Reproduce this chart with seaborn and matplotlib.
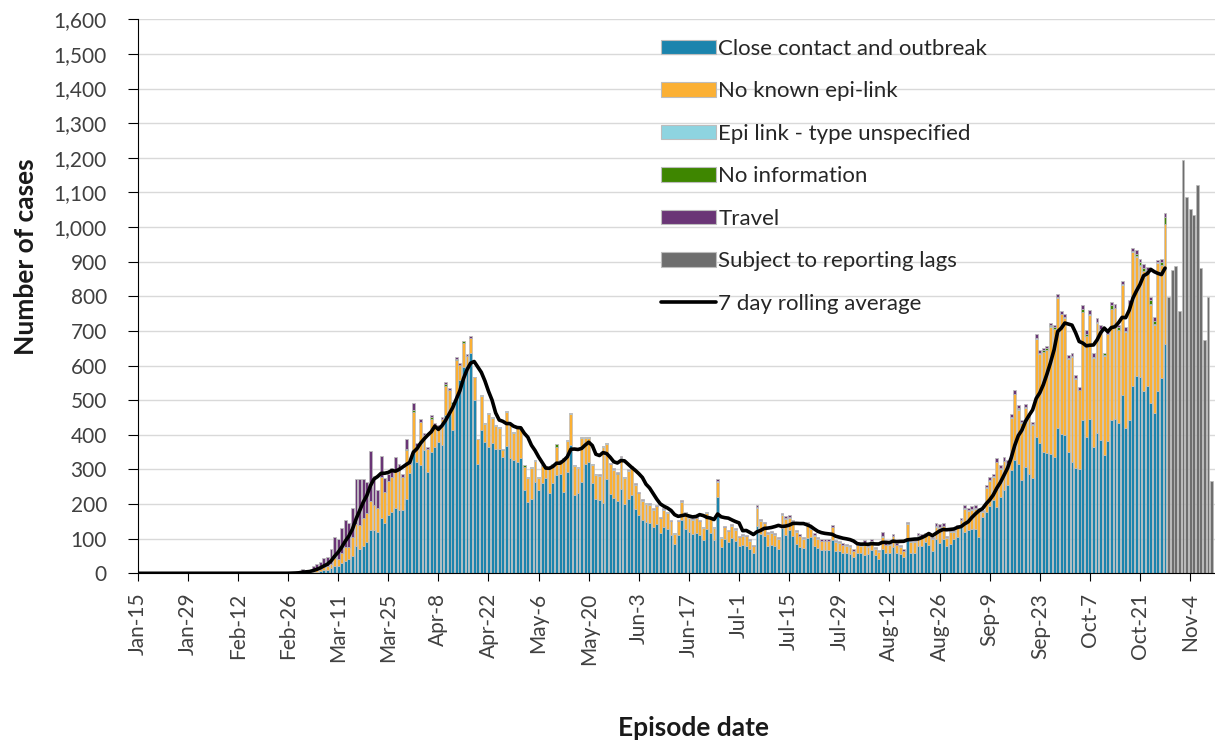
import numpy as np
import pandas as pd
import matplotlib
matplotlib.use("Agg")
import matplotlib.pyplot as plt
from matplotlib.patches import Patch
from matplotlib.lines import Line2D
import seaborn as sns


# ── Data (daily counts) ────────────────────────────────────────
# day 0 = Jan-15; bars start on Feb-26 (day 42), the last 13 days
# (from day 288) are only shown as "subject to reporting lags"
N_DAYS = 301
FIRST_DAY = 42
LAG_DAY = 288

close = [
    0, 0, 1, 1, 2, 1, 2, 4, 5, 7, 9, 10, 14, 20,
    22, 30, 35, 40, 50, 78, 70, 80, 90, 126, 126, 120, 159, 144,
    168, 178, 188, 183, 183, 216, 290, 351, 322, 312, 356, 293, 351, 365,
    380, 370, 457, 466, 413, 514, 558, 596, 587, 635, 500, 317, 413, 380,
    365, 375, 360, 360, 337, 367, 332, 327, 322, 332, 242, 207, 216, 264,
    240, 260, 274, 231, 260, 284, 288, 236, 293, 370, 226, 231, 265, 317,
    322, 262, 216, 212, 202, 271, 230, 218, 209, 243, 201, 216, 225, 187,
    169, 154, 147, 145, 135, 142, 117, 135, 128, 111, 84, 111, 153, 128,
    119, 114, 117, 111, 97, 128, 117, 97, 221, 76, 99, 90, 102, 94,
    78, 81, 80, 71, 59, 137, 113, 107, 80, 82, 78, 71, 130, 112,
    125, 108, 85, 77, 72, 101, 105, 78, 72, 67, 67, 67, 95, 65,
    64, 59, 58, 56, 47, 59, 58, 54, 56, 67, 52, 40, 70, 59,
    60, 77, 59, 56, 47, 103, 60, 60, 80, 80, 91, 82, 65, 98,
    87, 98, 79, 85, 98, 106, 135, 120, 125, 127, 127, 106, 163, 178,
    194, 213, 192, 221, 240, 255, 298, 327, 317, 269, 308, 288, 274, 394,
    377, 351, 348, 344, 337, 421, 402, 400, 350, 320, 303, 300, 444, 395,
    447, 365, 404, 385, 341, 383, 442, 447, 433, 516, 421, 442, 541, 570,
    567, 527, 541, 493, 462, 527, 564, 663,
]
no_epi_link = [
    0, 0, 0, 1, 2, 1, 1, 4, 5, 6, 8, 10, 14, 25,
    20, 30, 40, 35, 55, 63, 70, 80, 85, 83, 70, 70, 120, 90,
    100, 100, 110, 112, 95, 140, 25, 115, 45, 125, 42, 65, 96, 62,
    42, 75, 85, 62, 76, 101, 44, 69, 40, 45, 67, 70, 98, 50,
    94, 74, 65, 60, 18, 99, 98, 79, 100, 88, 65, 69, 89, 60,
    36, 49, 33, 74, 54, 81, 36, 95, 88, 90, 83, 74, 125, 73,
    68, 52, 69, 68, 162, 101, 85, 81, 77, 91, 74, 80, 80, 69,
    62, 56, 53, 53, 49, 51, 42, 49, 46, 39, 29, 39, 54, 46,
    42, 41, 42, 39, 34, 46, 42, 34, 43, 26, 34, 31, 36, 32,
    26, 28, 27, 23, 19, 53, 39, 37, 34, 35, 33, 29, 38, 46,
    36, 40, 34, 30, 28, 42, 24, 31, 28, 25, 25, 25, 38, 25,
    24, 22, 21, 20, 16, 22, 21, 28, 20, 25, 19, 21, 36, 22,
    23, 30, 22, 20, 16, 40, 30, 30, 29, 27, 20, 29, 35, 36,
    45, 38, 23, 34, 21, 27, 18, 67, 55, 57, 60, 76, 14, 69,
    73, 65, 128, 80, 83, 62, 150, 190, 155, 165, 170, 160, 155, 284,
    257, 287, 296, 367, 368, 375, 346, 338, 270, 305, 259, 228, 310, 289,
    300, 258, 320, 318, 287, 307, 320, 318, 269, 318, 277, 334, 387, 343,
    320, 345, 322, 283, 256, 369, 325, 345,
]
epi_unspecified = [
    0, 0, 0, 0, 2, 0, 0, 0, 0, 0, 0, 0, 0, 0,
    0, 0, 0, 0, 0, 0, 0, 0, 0, 0, 0, 0, 0, 0,
    0, 0, 0, 0, 0, 0, 0, 0, 0, 0, 0, 0, 0, 0,
    0, 0, 0, 0, 0, 0, 0, 0, 0, 0, 0, 0, 3, 3,
    3, 3, 3, 3, 0, 3, 3, 3, 3, 3, 0, 3, 3, 3,
    3, 3, 3, 3, 3, 0, 3, 3, 4, 4, 3, 3, 4, 4,
    4, 3, 3, 3, 3, 3, 2, 2, 2, 2, 2, 2, 2, 2,
    2, 2, 2, 2, 2, 2, 2, 2, 2, 2, 2, 2, 2, 2,
    2, 2, 2, 2, 2, 2, 2, 2, 2, 2, 2, 2, 2, 2,
    2, 2, 2, 2, 2, 2, 2, 2, 2, 2, 2, 2, 2, 2,
    2, 2, 2, 2, 2, 2, 2, 2, 2, 2, 2, 2, 2, 2,
    2, 2, 2, 2, 2, 2, 2, 2, 2, 2, 2, 2, 2, 2,
    2, 2, 2, 2, 2, 2, 2, 2, 2, 2, 2, 2, 2, 2,
    2, 2, 2, 2, 2, 2, 2, 2, 2, 2, 2, 2, 2, 2,
    2, 2, 2, 2, 2, 2, 2, 2, 2, 2, 2, 2, 2, 2,
    2, 2, 2, 2, 2, 2, 2, 2, 2, 2, 2, 2, 2, 2,
    2, 2, 2, 2, 2, 2, 2, 2, 2, 2, 2, 2, 2, 2,
    2, 2, 2, 2, 2, 2, 2, 2,
]
no_information = [
    0, 0, 0, 0, 0, 0, 0, 0, 0, 0, 0, 0, 0, 0,
    0, 0, 0, 0, 0, 0, 0, 0, 0, 0, 0, 0, 0, 0,
    0, 0, 0, 0, 0, 3, 0, 6, 0, 0, 0, 0, 4, 0,
    0, 0, 6, 0, 6, 5, 0, 6, 0, 0, 0, 0, 0, 0,
    0, 0, 0, 0, 5, 0, 0, 0, 0, 0, 5, 0, 0, 0,
    0, 0, 0, 0, 0, 8, 0, 0, 0, 0, 0, 0, 0, 0,
    0, 0, 0, 0, 0, 0, 0, 0, 2, 0, 0, 0, 0, 0,
    0, 0, 0, 0, 0, 0, 0, 0, 0, 0, 0, 0, 0, 0,
    0, 0, 0, 0, 0, 0, 0, 0, 0, 0, 0, 0, 0, 0,
    0, 0, 0, 0, 0, 0, 0, 0, 0, 0, 0, 0, 0, 0,
    0, 0, 0, 0, 0, 0, 0, 0, 0, 0, 0, 0, 0, 0,
    0, 0, 0, 0, 0, 0, 0, 0, 0, 0, 0, 0, 0, 0,
    0, 0, 0, 0, 0, 0, 0, 0, 0, 0, 0, 0, 0, 0,
    0, 0, 0, 0, 0, 0, 0, 0, 0, 0, 0, 0, 0, 0,
    0, 0, 0, 0, 0, 0, 0, 0, 4, 0, 0, 0, 0, 0,
    0, 4, 4, 4, 4, 0, 0, 0, 0, 0, 0, 0, 8, 6,
    0, 0, 0, 0, 5, 0, 10, 0, 6, 0, 0, 0, 0, 8,
    10, 8, 12, 10, 10, 0, 8, 20,
]
travel = [
    1, 2, 2, 2, 6, 4, 5, 12, 16, 20, 26, 28, 42, 60,
    58, 70, 80, 70, 85, 131, 132, 112, 90, 143, 86, 50, 59, 40,
    20, 27, 39, 22, 10, 30, 5, 20, 8, 10, 6, 7, 6, 6,
    6, 5, 5, 6, 0, 5, 4, 0, 6, 5, 0, 0, 0, 0,
    0, 0, 0, 0, 0, 0, 0, 0, 0, 0, 0, 0, 0, 0,
    0, 0, 0, 0, 0, 0, 0, 0, 0, 0, 0, 0, 0, 0,
    0, 0, 0, 3, 0, 0, 2, 2, 2, 2, 2, 2, 3, 2,
    2, 2, 2, 2, 2, 2, 2, 2, 2, 2, 2, 2, 4, 2,
    2, 2, 2, 2, 2, 2, 2, 2, 5, 2, 2, 2, 2, 2,
    2, 2, 2, 2, 2, 5, 3, 3, 4, 4, 4, 4, 5, 5,
    5, 4, 4, 4, 4, 4, 4, 4, 4, 4, 4, 4, 4, 4,
    4, 4, 4, 4, 4, 4, 4, 12, 4, 4, 4, 4, 12, 4,
    4, 4, 4, 4, 4, 4, 4, 4, 4, 5, 4, 4, 4, 8,
    8, 8, 4, 4, 4, 4, 4, 8, 6, 8, 8, 6, 4, 6,
    8, 8, 10, 10, 10, 8, 10, 10, 8, 8, 10, 7, 7, 10,
    8, 8, 6, 6, 6, 8, 8, 8, 8, 8, 8, 8, 10, 10,
    11, 10, 10, 11, 0, 10, 10, 10, 6, 8, 10, 10, 10, 10,
    10, 10, 8, 10, 10, 8, 10, 10,
]
# Oct-29 .. Nov-10
lagged = [798, 875, 887, 758, 1194, 1087, 1053, 1034, 1120, 883, 673, 798, 267]

tick_labels = ["Jan-15", "Jan-29", "Feb-12", "Feb-26", "Mar-11", "Mar-25",
               "Apr-8", "Apr-22", "May-6", "May-20", "Jun-3", "Jun-17",
               "Jul-1", "Jul-15", "Jul-29", "Aug-12", "Aug-26", "Sep-9",
               "Sep-23", "Oct-7", "Oct-21", "Nov-4"]

categories = ["Close contact and outbreak", "No known epi-link",
              "Epi link - type unspecified", "No information", "Travel",
              "Subject to reporting lags"]
colors = ["#1b84ad", "#fbb034", "#8ed4e0", "#3e8600", "#6a3576", "#6e6e6e"]
palette = dict(zip(categories, colors))


# ── Long table for seaborn ─────────────────────────────────────
days = np.arange(N_DAYS)
series = {}
for name, vals in zip(categories[:5],
                      [close, no_epi_link, epi_unspecified, no_information, travel]):
    arr = np.zeros(N_DAYS)
    arr[FIRST_DAY:LAG_DAY] = vals
    series[name] = arr
arr = np.zeros(N_DAYS)
arr[LAG_DAY:] = lagged
series[categories[5]] = arr

long = pd.concat(
    [pd.DataFrame({"day": days, "count": v, "category": k}) for k, v in series.items()],
    ignore_index=True,
)

total = sum(series[c] for c in categories[:5])[:LAG_DAY]
rolling = pd.Series(total).rolling(7, min_periods=1).mean()


# ── Plot ───────────────────────────────────────────────────────
sns.set_theme(style="white")
plt.rcParams["font.family"] = ["Lato", "DejaVu Sans"]

W, H = 1215, 745
fig = plt.figure(figsize=(W / 100, H / 100), dpi=100)
ax = fig.add_axes([137.5 / W, 1 - 573.3 / H, (W - 137.5) / W, (573.3 - 19.3) / H])

# hue levels stack top-down, so close contact ends up at the bottom
sns.histplot(
    data=long, x="day", weights="count", hue="category",
    hue_order=categories[::-1], multiple="stack", discrete=True,
    shrink=0.8, palette=palette, edgecolor="#bdbdbd", linewidth=0.5,
    alpha=1, legend=False, ax=ax,
)
sns.lineplot(x=days[:LAG_DAY], y=rolling.values, color="black",
             linewidth=2.6, ax=ax)

ax.set_xlim(-0.05, 300.95)
ax.set_ylim(0, 1600)
ax.set_xticks(np.arange(0, 295, 14))
ax.set_xticklabels(tick_labels, rotation=90, fontsize=15, color="#404040")
ax.set_yticks(np.arange(0, 1601, 100))
ax.set_yticklabels([f"{v:,}" for v in range(0, 1601, 100)],
                   fontsize=15, color="#404040")
ax.tick_params(axis="x", length=6, width=0.8, color="black", pad=8,
               direction="out", bottom=True)
ax.tick_params(axis="y", length=7, width=0.8, color="black", pad=15,
               direction="out", left=True)
ax.yaxis.grid(True, color="#d9d9d9", linewidth=1)
ax.xaxis.grid(False)
ax.set_axisbelow(True)
for s in ["top", "right"]:
    ax.spines[s].set_visible(False)
for s in ["left", "bottom"]:
    ax.spines[s].set_color("black")
    ax.spines[s].set_linewidth(0.8)
ax.set_xlabel("")
ax.set_ylabel("")

fig.text(0.021, 0.655, "Number of cases", rotation=90, ha="center",
         va="center", fontsize=19, fontweight="bold", color="#1a1a1a")
fig.text(0.571, 0.023, "Episode date", ha="center", va="center",
         fontsize=19, fontweight="bold", color="#1a1a1a")

# legend
handles = [Patch(facecolor=palette[c], edgecolor="#bdbdbd", linewidth=0.8)
           for c in categories]
handles.append(Line2D([0], [0], color="black", linewidth=2.6))
labels = categories + ["7 day rolling average"]
fig.legend(handles, labels, loc="upper left",
           bbox_to_anchor=(661 / W, 1 - 39 / H), frameon=False,
           fontsize=16, handlelength=2.48, handleheight=0.63,
           handletextpad=0.1, labelspacing=1.01, borderpad=0,
           borderaxespad=0, labelcolor="#262626")

fig.savefig("out.png", dpi=100)
